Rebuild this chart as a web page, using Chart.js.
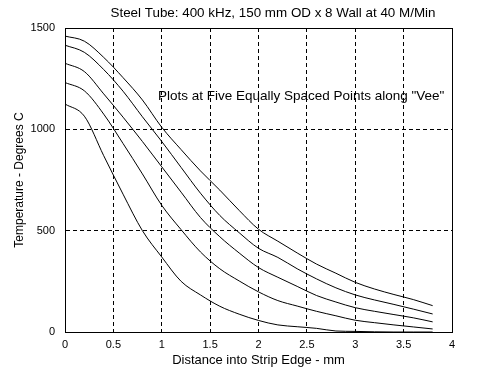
<!DOCTYPE html>
<html>
<head>
<meta charset="utf-8">
<script src="https://cdn.jsdelivr.net/npm/chart.js@4.4.0/dist/chart.umd.min.js"></script>
<style>
  html, body { margin: 0; padding: 0; background: #fff; }
  #wrap { width: 500px; height: 375px; }
</style>
</head>
<body>
<div id="wrap"><canvas id="vee" width="500" height="375"></canvas></div>
<script>
// distance into strip edge (mm)
const distance = [0, 0.2, 0.4, 0.6, 0.8, 1.0, 1.2, 1.4, 1.6, 1.8, 2.0, 2.2, 2.4, 2.6, 2.8, 3.0, 3.2, 3.4, 3.6, 3.8];

// temperature (deg C) at five points along the vee, hottest first
const point1 = [1460, 1435, 1355, 1255, 1145, 1010, 900, 795, 700, 600, 507, 448, 390, 335, 290, 245, 212, 185, 160, 130];
const point2 = [1415, 1380, 1295, 1188, 1062, 940, 812, 685, 575, 490, 413, 368, 312, 262, 218, 183, 158, 136, 113, 89];
const point3 = [1326, 1285, 1175, 1060, 940, 815, 690, 565, 470, 390, 318, 270, 225, 180, 148, 120, 102, 86, 70, 50];
const point4 = [1231, 1190, 1075, 930, 780, 625, 505, 395, 312, 252, 198, 155, 128, 102, 80, 58, 46, 35, 25, 15];
const point5 = [1125, 1065, 870, 680, 500, 370, 250, 183, 127, 88, 57, 35, 26, 18, 5, 3, 1, 0, 0, 0];

const xTicks = [0, 0.5, 1, 1.5, 2, 2.5, 3, 3.5, 4];
const yTicks = [0, 500, 1000, 1500];

const titleText = 'Steel Tube: 400 kHz, 150 mm OD x 8 Wall at 40 M/Min';
const noteText = 'Plots at Five Equally Spaced Points along "Vee"';

const FONT = 'Liberation Sans, Arial, sans-serif';

function series(values) {
    return {
        data: values.map((v, i) => ({x: distance[i], y: v})),
        borderColor: '#000',
        borderWidth: 1,
        pointRadius: 0,
        cubicInterpolationMode: 'monotone',
        fill: false,
    };
}

// solid frame, title and the note inside the axes
const extras = {
    id: 'extras',
    afterDraw(chart) {
        const ctx = chart.ctx;
        const a = chart.chartArea;
        ctx.save();
        ctx.strokeStyle = '#000';
        ctx.lineWidth = 1;
        ctx.setLineDash([]);
        ctx.strokeRect(a.left + 0.5, a.top + 0.5, a.right - a.left, a.bottom - a.top);
        ctx.fillStyle = '#000';
        ctx.textBaseline = 'middle';
        ctx.textAlign = 'center';
        ctx.font = '13.4px ' + FONT;
        ctx.fillText(titleText, 273, 13);
        ctx.textAlign = 'left';
        ctx.font = '13.5px ' + FONT;
        const nx = chart.scales.x.getPixelForValue(0.96);
        const ny = chart.scales.y.getPixelForValue(1165);
        ctx.fillText(noteText, nx, ny);
        ctx.restore();
    }
};

const gridOpts = {
    color: '#000',
    lineWidth: 1,
    drawTicks: false,
};

// in v4 the grid line dash is read from border.dash
const borderOpts = { display: true, color: '#000', dash: [4, 3] };

new Chart(document.getElementById('vee'), {
    type: 'line',
    data: {
        datasets: [series(point1), series(point2), series(point3), series(point4), series(point5)]
    },
    options: {
        responsive: false,
        animation: false,
        layout: { padding: { top: 28, right: 48, left: 0, bottom: 0 } },
        plugins: {
            legend: { display: false },
            title: { display: false },
            tooltip: { enabled: false },
        },
        scales: {
            x: {
                type: 'linear',
                min: 0,
                max: 4,
                afterFit: (s) => { s.height = 43; },
                afterBuildTicks: (s) => { s.ticks = xTicks.map(v => ({value: v})); },
                grid: gridOpts,
                border: borderOpts,
                ticks: {
                    color: '#000',
                    padding: 6,
                    maxRotation: 0,
                    font: { family: FONT, size: 11 },
                    callback: (v) => String(v),
                },
                title: {
                    display: true,
                    text: 'Distance into Strip Edge - mm',
                    color: '#000',
                    font: { family: FONT, size: 13 },
                    padding: { top: 0, bottom: 7 },
                },
            },
            y: {
                min: 0,
                max: 1500,
                afterFit: (s) => { s.width = 65; },
                afterBuildTicks: (s) => { s.ticks = yTicks.map(v => ({value: v})); },
                grid: gridOpts,
                border: borderOpts,
                ticks: {
                    color: '#000',
                    padding: 10,
                    font: { family: FONT, size: 11 },
                    callback: (v) => String(v),
                },
                title: {
                    display: true,
                    text: 'Temperature - Degrees C',
                    color: '#000',
                    font: { family: FONT, size: 12 },
                    padding: { top: 12, bottom: 0 },
                },
            },
        },
    },
    plugins: [extras],
});
</script>
</body>
</html>
